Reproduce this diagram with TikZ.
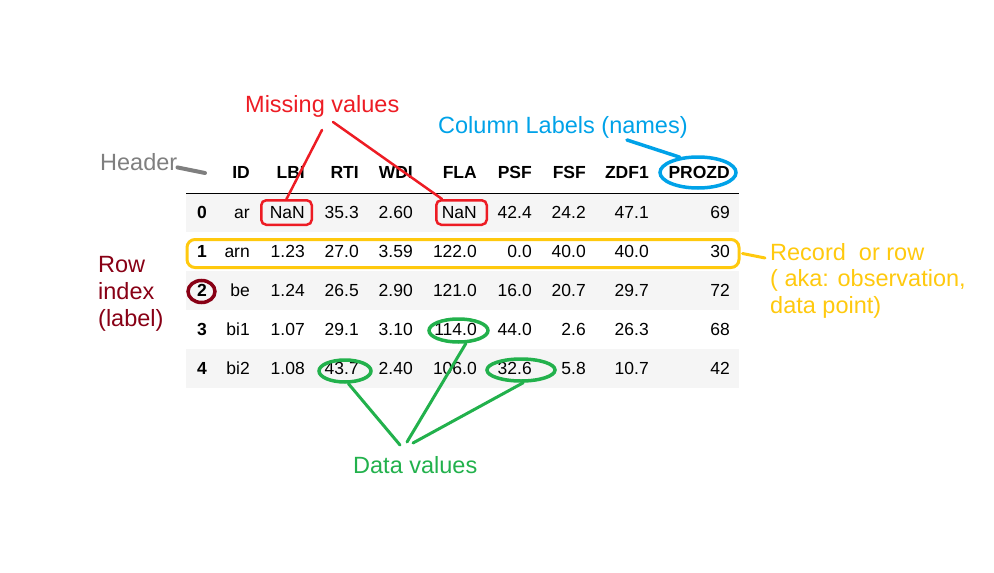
\documentclass[tikz,border=0pt]{standalone}
\usepackage{fontspec}
\setmainfont{Liberation Sans}
\usetikzlibrary{shapes.geometric}
\definecolor{mvred}{HTML}{ED1C24}
\definecolor{clblue}{HTML}{00A2E8}
\definecolor{recgold}{HTML}{FFC90E}
\definecolor{idxred}{HTML}{880015}
\definecolor{dvgreen}{HTML}{22B14C}
\definecolor{hdgray}{HTML}{7F7F7F}
\definecolor{rowgray}{HTML}{F5F5F5}

\begin{document}
\begin{tikzpicture}[x=1pt, y=-1pt, line cap=round,
  cell/.style={anchor=base east, inner sep=0pt, font=\fontsize{17.5}{21}\selectfont},
  colhead/.style={cell, font=\fontsize{17.5}{21}\selectfont\bfseries},
  note/.style={anchor=base west, inner sep=0pt, font=\fontsize{23.5}{27}\selectfont},
  ring/.style={draw, ellipse, inner sep=0pt, line width=3.5pt}]
  \useasboundingbox (0,0) rectangle (994,573);
  % striped rows
  \foreach \r in {0,2,4}
    \fill[rowgray] (186,193+39*\r) rectangle (739,232+39*\r);
  \draw[line width=1pt, line cap=butt] (186,193) -- (739,193);
  % column heads
  \def\colx{{250,305,359,413,477,532,586,649,730}}
  \foreach \h [count=\c from 0] in {ID,LBI,RTI,WDI,FLA,PSF,FSF,ZDF1,PROZD} {
    \pgfmathsetmacro\xx{\colx[\c]}
    \node[colhead] (h-\c) at (\xx,178) {\h};
  }
  % rows
  \foreach \r/\vals in {0/{ar,NaN,35.3,2.60,NaN,42.4,24.2,47.1,69},
                       1/{arn,1.23,27.0,3.59,122.0,0.0,40.0,40.0,30},
                       2/{be,1.24,26.5,2.90,121.0,16.0,20.7,29.7,72},
                       3/{bi1,1.07,29.1,3.10,114.0,44.0,2.6,26.3,68},
                       4/{bi2,1.08,43.7,2.40,106.0,32.6,5.8,10.7,42}} {
    \node[colhead, anchor=base west] (i-\r) at (197,218+39*\r) {\r};
    \foreach \v [count=\c from 0] in \vals {
      \pgfmathsetmacro\xx{\colx[\c]}
      \node[cell] (d-\r-\c) at (\xx,218+39*\r) {\v};
    }
  }
  % missing values
  \node[note, text=mvred] (missing) at (245,112) {Missing values};
  \node[draw=mvred, line width=2.5pt, rounded corners=5pt, inner sep=0pt,
    minimum width=50.5, minimum height=24.5] (nan1) at (286.5,212.5) {};
  \node[draw=mvred, line width=2.5pt, rounded corners=5pt, inner sep=0pt,
    minimum width=50.5, minimum height=24.5] (nan2) at (461.5,212.5) {};
  \coordinate (mv1) at (322,130);
  \coordinate (mv2) at (333,122);
  \draw[mvred, line width=2.5pt] (mv1) -- (nan1.north);
  \draw[mvred, line width=2.5pt] (mv2) -- ([xshift=7pt]nan2.north west);
  % column labels
  \node[note, text=clblue] (collab) at (438,133) {Column Labels (names)};
  \node[ring, draw=clblue, minimum width=76, minimum height=31] (prozdring) at (698,172.5) {};
  \coordinate (cl) at (627,140);
  \draw[clblue, line width=3.5pt] (cl) -- (prozdring.140);
  % header
  \node[note, text=hdgray] (header) at (100,170) {Header};
  \coordinate (hdtip) at (205,173);
  \draw[hdgray, line width=4pt] ([yshift=3pt]header.south east) -- (hdtip);
  % row index
  \node[note, text=idxred, align=left] (rowidx) at (98,326) {Row\\index\\(label)};
  \node[ring, draw=idxred, minimum width=27, minimum height=22] (idxring) at (201.5,291.5) {};
  % record
  \node[draw=recgold, line width=3pt, rounded corners=8pt, inner sep=0pt,
    minimum width=552, minimum height=28] (recbox) at (463,253.5) {};
  \node[note, text=recgold, align=left, font=\fontsize{23.5}{26.5}\selectfont]
    (record) at (770,313) {Record~ or row\\( aka: observation,\\data point)};
  \coordinate (rectip) at (765,258);
  \draw[recgold, line width=3pt] ([xshift=2pt]recbox.east) -- (rectip);
  % data values
  \node[note, text=dvgreen] (datav) at (353,473) {Data values};
  \node[ring, draw=dvgreen, minimum width=52, minimum height=22] (dv1) at (345,371) {};
  \node[ring, draw=dvgreen, minimum width=59, minimum height=23] (dv2) at (458.5,330.5) {};
  \node[ring, draw=dvgreen, minimum width=68, minimum height=22] (dv3) at (521,370) {};
  \coordinate (dvA) at (400,445);
  \coordinate (dvB) at (407,442);
  \coordinate (dvC) at (413,443);
  \draw[dvgreen, line width=3pt] (dv1.-75) -- (dvA);
  \draw[dvgreen, line width=3pt] (dv2.-60) -- (dvB);
  \draw[dvgreen, line width=3pt] (dv3.-80) -- (dvC);
\end{tikzpicture}
\end{document}
